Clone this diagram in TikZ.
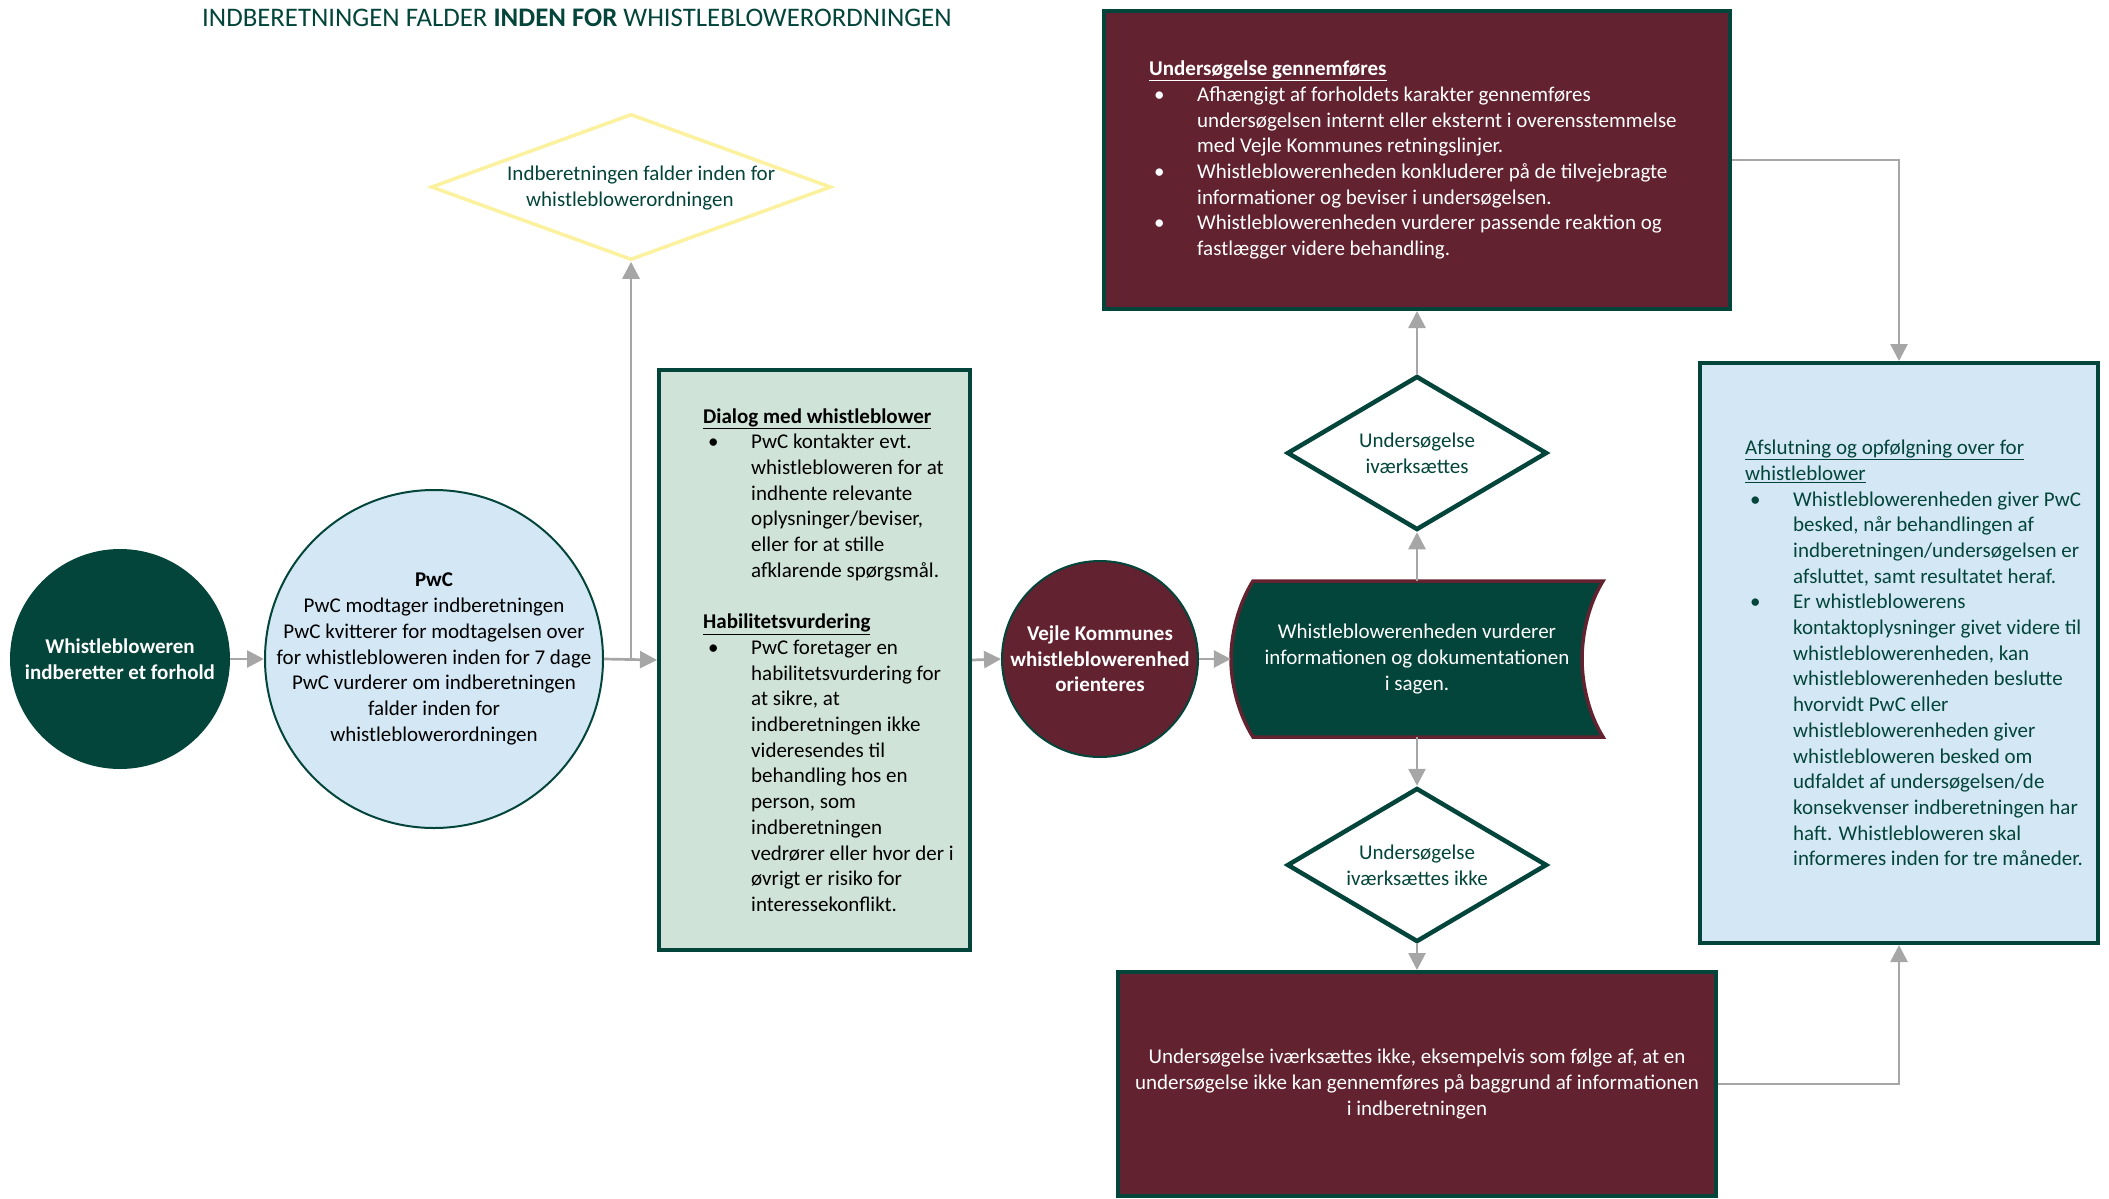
\documentclass[tikz,border=0pt]{standalone}
\usepackage{fontspec}
\setmainfont{Carlito}
\usetikzlibrary{shapes.geometric,arrows.meta}
\definecolor{dgreen}{HTML}{03453A}
\definecolor{maroonc}{HTML}{622230}
\definecolor{lblue}{HTML}{D3E7F4}
\definecolor{lgreen}{HTML}{CFE3D9}
\definecolor{yel}{HTML}{FBF19E}
\definecolor{agray}{HTML}{A6A6A6}
\newcommand{\bodyfont}{\fontsize{21}{25.7}\selectfont}
\newcommand{\bl}{\makebox[48pt][l]{\hspace{5pt}\textbullet}}
\newcommand{\ind}{\hspace*{48pt}}
\begin{document}
\begin{tikzpicture}[x=1pt,y=-1pt,font=\bodyfont,
  arr/.style={draw=agray,line width=2.7pt,-{Triangle[length=17pt,width=17pt]}},
  darkcirc/.style={circle,fill=dgreen,draw=dgreen,line width=2pt,text=white,font=\bodyfont\bfseries,align=center,inner sep=0pt},
  pwccirc/.style={circle,fill=lblue,draw=dgreen,line width=2pt,inner sep=0pt},
  marooncirc/.style={circle,fill=maroonc,draw=dgreen,line width=2pt,text=white,font=\bodyfont\bfseries,align=center,inner sep=0pt},
  gdia/.style={diamond,draw=dgreen,fill=white,line width=4.5pt,inner sep=0pt},
  ydiast/.style={diamond,draw=yel,fill=white,line width=3.5pt,inner sep=0pt},
  difont/.style={text=dgreen,align=center,inner sep=0pt},
  boxg/.style={rectangle,draw=dgreen,line width=4pt,inner sep=0pt},
  txt/.style={inner sep=0pt,align=left}]
\useasboundingbox (0,0) rectangle (2109,1199);

% title
\node[anchor=west,text=dgreen,inner sep=0pt,font=\fontsize{26.8}{30}\selectfont] (title) at (202,18)
  {INDBERETNINGEN FALDER \textbf{INDEN FOR} WHISTLEBLOWERORDNINGEN};

% whistleblower
\node[darkcirc,minimum size=218pt] (wb) at (120,659) {Whistlebloweren\\indberetter et forhold};

% PwC
\node[pwccirc,minimum size=338pt] (pwc) at (434,659) {};
\node[align=center,inner sep=0pt] (pwctxt) at (pwc.center) {\textbf{PwC}\\PwC modtager indberetningen\\PwC kvitterer for modtagelsen over\\for whistlebloweren inden for 7 dage\\PwC vurderer om indberetningen\\falder inden for\\whistleblowerordningen};

% yellow diamond
\node[ydiast,minimum width=400pt,minimum height=146pt] (ydia) at (631,187) {};
\node[difont,align=left,anchor=west] (ydtxt) at (507,188) {Indberetningen falder inden for\\\hspace*{19pt}whistleblowerordningen};

% green box
\node[boxg,fill=lgreen,minimum width=311pt,minimum height=580pt] (gbox) at (814.5,660) {};
\node[txt,anchor=west] (gtxt) at (703,660) {\textbf{\underline{Dialog med whistleblower}}\\
\bl PwC kontakter evt.\\
\ind whistlebloweren for at\\
\ind indhente relevante\\
\ind oplysninger/beviser,\\
\ind eller for at stille\\
\ind afklarende spørgsmål.\\[25.7pt]
\textbf{\underline{Habilitetsvurdering}}\\
\bl PwC foretager en\\
\ind habilitetsvurdering for\\
\ind at sikre, at\\
\ind indberetningen ikke\\
\ind videresendes til\\
\ind behandling hos en\\
\ind person, som\\
\ind indberetningen\\
\ind vedrører eller hvor der i\\
\ind øvrigt er risiko for\\
\ind interessekonflikt.};

% Vejle circle
\node[marooncirc,minimum size=196pt] (vk) at (1100,659) {Vejle Kommunes\\whistleblowerenhed\\orienteres};

% wavy shape
\node[minimum width=372pt,minimum height=156pt,inner sep=0pt] (wav) at (1417,659) {};
\draw[draw=maroonc,fill=dgreen,line width=3.5pt]
  (1253,581) -- (1603,581)
  .. controls (1588,605) and (1582,635) .. (1582,659)
  .. controls (1582,683) and (1588,713) .. (1603,737)
  -- (1253,737)
  .. controls (1238,713) and (1231,683) .. (1231,659)
  .. controls (1231,635) and (1238,605) .. (1253,581) -- cycle;
\node[text=white,align=center,inner sep=0pt] (wavtxt) at (wav.center) {Whistleblowerenheden vurderer\\informationen og dokumentationen\\i sagen.};

% diamonds
\node[gdia,minimum width=260pt,minimum height=154pt] (d1) at (1417,453) {};
\node[difont] (d1txt) at (d1.center) {Undersøgelse\\iværksættes};
\node[gdia,minimum width=260pt,minimum height=154pt] (d2) at (1417,865) {};
\node[difont] (d2txt) at (d2.center) {Undersøgelse\\iværksættes ikke};

% top box
\node[boxg,fill=maroonc,minimum width=626pt,minimum height=298pt] (tbox) at (1417,160) {};
\node[txt,anchor=west,text=white] (ttxt) at (1149,160) {\textbf{\underline{Undersøgelse gennemføres}}\\
\bl Afhængigt af forholdets karakter gennemføres\\
\ind undersøgelsen internt eller eksternt i overensstemmelse\\
\ind med Vejle Kommunes retningslinjer.\\
\bl Whistleblowerenheden konkluderer på de tilvejebragte\\
\ind informationer og beviser i undersøgelsen.\\
\bl Whistleblowerenheden vurderer passende reaktion og\\
\ind fastlægger videre behandling.};

% bottom box
\node[boxg,fill=maroonc,minimum width=598pt,minimum height=224pt] (btm) at (1417,1084) {};
\node[text=white,align=center,inner sep=0pt] (btxt) at (btm.center) {Undersøgelse iværksættes ikke, eksempelvis som følge af, at en\\undersøgelse ikke kan gennemføres på baggrund af informationen\\i indberetningen};

% blue box
\node[boxg,fill=lblue,minimum width=398pt,minimum height=580pt] (blue) at (1899,653) {};
\node[txt,anchor=west,text=dgreen] (bltxt) at (1745,653) {\underline{Afslutning og opfølgning over for}\\
\underline{whistleblower}\\
\bl Whistleblowerenheden giver PwC\\
\ind besked, når behandlingen af\\
\ind indberetningen/undersøgelsen er\\
\ind afsluttet, samt resultatet heraf.\\
\bl Er whistleblowerens\\
\ind kontaktoplysninger givet videre til\\
\ind whistleblowerenheden, kan\\
\ind whistleblowerenheden beslutte\\
\ind hvorvidt PwC eller\\
\ind whistleblowerenheden giver\\
\ind whistlebloweren besked om\\
\ind udfaldet af undersøgelsen/de\\
\ind konsekvenser indberetningen har\\
\ind haft. Whistlebloweren skal\\
\ind informeres inden for tre måneder.};

% connectors
\draw[arr] (wb.east) -- (pwc.west);
\draw[arr] (pwc.east) -- (gbox.west);
\draw[arr] (ydia.south |- pwc.east) -- (ydia.south);
\draw[arr] (gbox.east) -- (vk.west);
\draw[arr] (vk.east) -- (wav.west);
\draw[arr] (wav.north) -- (d1.south);
\draw[arr] (d1.north) -- (tbox.south);
\draw[arr] (wav.south) -- (d2.north);
\draw[arr] (d2.south) -- (btm.north);
\draw[arr] (tbox.east) -| (blue.north);
\draw[arr] (btm.east) -| (blue.south);
\end{tikzpicture}
\end{document}
